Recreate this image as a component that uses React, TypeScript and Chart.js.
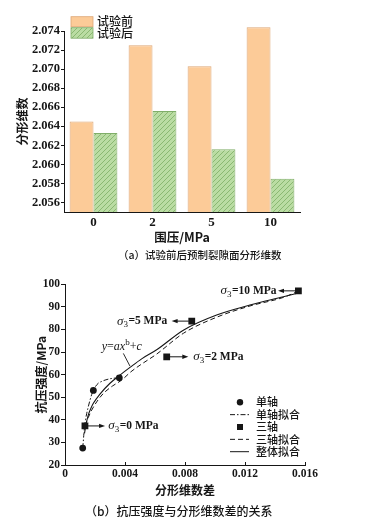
import React, { useEffect, useRef } from "react";
import { Chart, registerables } from "chart.js";

Chart.register(...registerables);

// ---------- (a) fractal dimension before / after test ----------
const confiningPressure = ["0", "2", "5", "10"];
const dimBefore = [2.0645, 2.0725, 2.0703, 2.0744];
const dimAfter = [2.0633, 2.0656, 2.0616, 2.0585];
const seriesNamesA = ["试验前", "试验后"];
const yTicksA = [2.056, 2.058, 2.06, 2.062, 2.064, 2.066, 2.068, 2.07, 2.072, 2.074];
const yMinA = 2.055;

// ---------- (b) strength vs fractal dimension difference ----------
const uniX = [0.00118, 0.00189, 0.00362];
const uniY = [27.5, 53.0, 58.6];
const triX = [0.00133, 0.00678, 0.00845, 0.01556];
const triY = [37.3, 67.9, 83.7, 97.1];
const triSigma = ["0", "2", "5", "10"];
const triArrowEndX = [0.00267, 0.00822, 0.00711, 0.0142];
const triLabelX = [0.00289, 0.00855, 0.00678, 0.01407];
const triLabelSide = ["right", "right", "left", "left"];

const uniFitX = [0.00118, 0.00122, 0.00126, 0.00131, 0.00137, 0.00145, 0.00156, 0.00167, 0.00178, 0.00189, 0.00205, 0.00222, 0.00245, 0.00267, 0.00295, 0.00322, 0.00362];
const uniFitY = [27.5, 30.5, 34.0, 37.5, 40.2, 42.9, 46.0, 48.8, 51.2, 53.0, 54.9, 56.2, 57.0, 57.6, 58.1, 58.4, 58.6];

const triFitX = [0.00133, 0.00155, 0.00178, 0.00215, 0.00256, 0.00315, 0.00378, 0.0044, 0.005, 0.00611, 0.00789, 0.0101, 0.01233, 0.01456, 0.01556];
const triFitY = [37.3, 41.0, 44.3, 48.3, 51.7, 54.9, 57.6, 61.3, 64.2, 69.1, 78.3, 85.4, 90.4, 94.2, 97.0];

const allFitX = [0.0013, 0.00142, 0.00155, 0.00172, 0.00189, 0.00233, 0.003, 0.00362, 0.00433, 0.00511, 0.00611, 0.00789, 0.01011, 0.01233, 0.01456, 0.01556];
const allFitY = [34.0, 38.5, 42.1, 45.0, 47.3, 51.4, 56.2, 59.6, 63.2, 67.0, 71.0, 79.7, 86.4, 90.8, 94.5, 96.2];

const legendNamesB = ["单轴", "单轴拟合", "三轴", "三轴拟合", "整体拟合"];
const xTicksB = [0, 0.004, 0.008, 0.012, 0.016];
const yTicksB = [20, 30, 40, 50, 60, 70, 80, 90, 100];

const formulaAt = { x: 0.00245, y: 72.3 };
const formulaLeader = [
  { x: 0.00389, y: 69.4 },
  { x: 0.00433, y: 63.8 },
];

const SERIF = '"Liberation Serif", "Times New Roman", "Noto Sans CJK SC", serif';
const CJK = '"Noto Sans CJK SC", "Liberation Serif", sans-serif';
const INK = "#161616";

function makeHatch(): CanvasPattern | string {
  const c = document.createElement("canvas");
  c.width = 5;
  c.height = 5;
  const g = c.getContext("2d");
  if (!g) return "#B9DBA2";
  g.fillStyle = "#BADCA3";
  g.fillRect(0, 0, 5, 5);
  g.strokeStyle = "#7EAF66";
  g.lineWidth = 0.8;
  g.beginPath();
  g.moveTo(0, 5);
  g.lineTo(5, 0);
  g.moveTo(-1, 1);
  g.lineTo(1, -1);
  g.moveTo(4, 6);
  g.lineTo(6, 4);
  g.stroke();
  const p = g.createPattern(c, "repeat");
  return p || "#B9DBA2";
}

function drawArrow(ctx: CanvasRenderingContext2D, x1: number, y: number, x2: number) {
  const dir = x2 > x1 ? 1 : -1;
  ctx.save();
  ctx.strokeStyle = INK;
  ctx.fillStyle = INK;
  ctx.lineWidth = 1;
  ctx.beginPath();
  ctx.moveTo(x1, y);
  ctx.lineTo(x2 - dir * 4, y);
  ctx.stroke();
  ctx.beginPath();
  ctx.moveTo(x2, y);
  ctx.lineTo(x2 - dir * 6, y - 2.2);
  ctx.lineTo(x2 - dir * 6, y + 2.2);
  ctx.closePath();
  ctx.fill();
  ctx.restore();
}

function drawSigma(ctx: CanvasRenderingContext2D, x: number, y: number, val: string, side: string) {
  const parts = [
    { t: "σ", f: `italic 13px ${SERIF}`, dy: 0 },
    { t: "3", f: `9px ${SERIF}`, dy: 3.5 },
    { t: `=${val} MPa`, f: `bold 11.5px ${SERIF}`, dy: 0 },
  ];
  ctx.save();
  let total = 0;
  const widths = parts.map((p) => {
    ctx.font = p.f;
    const w = ctx.measureText(p.t).width;
    total += w;
    return w;
  });
  let cx = side === "right" ? x : x - total;
  ctx.fillStyle = INK;
  ctx.textBaseline = "middle";
  ctx.textAlign = "left";
  parts.forEach((p, i) => {
    ctx.font = p.f;
    ctx.fillText(p.t, cx, y + p.dy);
    cx += widths[i] + (i === 1 ? 0.5 : 0);
  });
  ctx.restore();
}

const legendAPlugin = {
  id: "legendA",
  afterDraw(chart: any) {
    const { ctx, chartArea } = chart;
    const { left, top } = chartArea;
    const fills = chart.data.datasets.map((d: any) => d.backgroundColor);
    const borders = chart.data.datasets.map((d: any) => d.borderColor);
    const boxes = [
      { y: top - 14.3, h: 10 },
      { y: top - 3.3, h: 10.5 },
    ];
    ctx.save();
    seriesNamesA.forEach((name, i) => {
      ctx.fillStyle = fills[i];
      ctx.fillRect(left + 7, boxes[i].y, 22, boxes[i].h);
      ctx.strokeStyle = borders[i];
      ctx.lineWidth = 0.8;
      ctx.strokeRect(left + 7, boxes[i].y, 22, boxes[i].h);
      ctx.fillStyle = INK;
      ctx.font = `500 12px ${CJK}`;
      ctx.textBaseline = "middle";
      ctx.textAlign = "left";
      ctx.fillText(name, left + 33, boxes[i].y + boxes[i].h / 2);
    });
    ctx.restore();
  },
};

const annotBPlugin = {
  id: "annotB",
  afterDatasetsDraw(chart: any) {
    const { ctx, chartArea, scales } = chart;
    const xs = scales.x;
    const ys = scales.y;
    ctx.save();
    // inward x ticks
    ctx.strokeStyle = INK;
    ctx.lineWidth = 1;
    xTicksB.forEach((v) => {
      const px = Math.round(xs.getPixelForValue(v)) + 0.5;
      ctx.beginPath();
      ctx.moveTo(px, chartArea.bottom);
      ctx.lineTo(px, chartArea.bottom - 3);
      ctx.stroke();
    });
    // sigma arrows + labels
    triX.forEach((x, i) => {
      const py = ys.getPixelForValue(triY[i]);
      const px = xs.getPixelForValue(x);
      const ex = xs.getPixelForValue(triArrowEndX[i]);
      const dir = ex > px ? 1 : -1;
      drawArrow(ctx, px + dir * 3, py, ex);
      drawSigma(ctx, xs.getPixelForValue(triLabelX[i]), py, triSigma[i], triLabelSide[i]);
    });
    // formula label
    const fx = xs.getPixelForValue(formulaAt.x);
    const fy = ys.getPixelForValue(formulaAt.y);
    const parts = [
      { t: "y", f: `italic 12px ${SERIF}`, dy: 0 },
      { t: "=", f: `12px ${SERIF}`, dy: 0 },
      { t: "ax", f: `italic 12px ${SERIF}`, dy: 0 },
      { t: "b", f: `9px ${SERIF}`, dy: -4 },
      { t: "+", f: `12px ${SERIF}`, dy: 0 },
      { t: "c", f: `italic 12px ${SERIF}`, dy: 0 },
    ];
    let cx = fx;
    ctx.fillStyle = INK;
    ctx.textBaseline = "middle";
    ctx.textAlign = "left";
    parts.forEach((p) => {
      ctx.font = p.f;
      ctx.fillText(p.t, cx, fy + p.dy);
      cx += ctx.measureText(p.t).width;
    });
    ctx.beginPath();
    ctx.moveTo(xs.getPixelForValue(formulaLeader[0].x), ys.getPixelForValue(formulaLeader[0].y));
    ctx.lineTo(xs.getPixelForValue(formulaLeader[1].x), ys.getPixelForValue(formulaLeader[1].y));
    ctx.lineWidth = 0.9;
    ctx.stroke();

    // legend
    const sx = chartArea.right - 65;
    const tx = chartArea.right - 49;
    const y0 = chartArea.bottom - 62.7;
    const step = 12.35;
    const dsets = chart.data.datasets;
    legendNamesB.forEach((name, i) => {
      const y = y0 + i * step;
      const ds = dsets[i];
      ctx.fillStyle = INK;
      ctx.strokeStyle = INK;
      if (!ds.showLine) {
        if (ds.pointStyle === "rect") {
          ctx.fillRect(sx - 3, y - 3, 6, 6);
        } else {
          ctx.beginPath();
          ctx.arc(sx, y, 3.2, 0, Math.PI * 2);
          ctx.fill();
        }
      } else {
        ctx.save();
        ctx.lineWidth = 1;
        ctx.setLineDash(ds.borderDash || []);
        ctx.beginPath();
        ctx.moveTo(sx - 10, y);
        ctx.lineTo(sx + 9, y);
        ctx.stroke();
        ctx.restore();
      }
      ctx.font = `500 11px ${CJK}`;
      ctx.textBaseline = "middle";
      ctx.fillText(name, tx, y);
    });
    ctx.restore();
  },
};

export default function App() {
  const refA = useRef<HTMLCanvasElement>(null);
  const refB = useRef<HTMLCanvasElement>(null);

  useEffect(() => {
    if (!refA.current || !refB.current) return;
    const hatch = makeHatch();
    const chartA = new Chart(refA.current, {
      type: "bar",
      data: {
        labels: confiningPressure,
        datasets: [
          {
            label: seriesNamesA[0],
            data: dimBefore,
            base: yMinA,
            backgroundColor: "#FCCB98",
            borderColor: "#DDA676",
            borderWidth: 1,
            categoryPercentage: 0.81,
            barPercentage: 1,
            clip: false as any,
          },
          {
            label: seriesNamesA[1],
            data: dimAfter,
            base: yMinA,
            backgroundColor: hatch as any,
            borderColor: "#80AE69",
            borderWidth: 1,
            categoryPercentage: 0.81,
            barPercentage: 1,
            clip: false as any,
          },
        ] as any,
      },
      options: {
        responsive: false,
        maintainAspectRatio: false,
        animation: false,
        devicePixelRatio: 1,
        layout: { padding: { left: 0, top: 31, right: 66, bottom: 0 } },
        plugins: { legend: { display: false }, tooltip: { enabled: false } },
        scales: {
          x: {
            grid: { display: false, drawTicks: false },
            border: { display: true, color: INK, width: 1 },
            ticks: { color: INK, font: { family: SERIF, size: 13, weight: "bold" }, padding: 3 },
            title: {
              display: true,
              text: "围压/MPa",
              color: INK,
              font: { family: CJK, size: 12.5, weight: "bold" },
              padding: { top: 0, bottom: 5.5 },
            },
            afterFit: (s: any) => {
              s.height = 38;
            },
          },
          y: {
            min: yMinA,
            max: 2.074,
            afterBuildTicks: (s: any) => {
              s.ticks = yTicksA.map((v) => ({ value: v }));
            },
            ticks: {
              color: INK,
              font: { family: SERIF, size: 12.5, weight: "bold" },
              padding: 1,
              callback: (v: any) => Number(v).toFixed(3),
            },
            grid: { display: true, drawOnChartArea: false, drawTicks: true, tickLength: 3, color: INK },
            border: { display: true, color: INK, width: 1 },
            title: {
              display: true,
              text: "分形维数",
              color: INK,
              font: { family: CJK, size: 12, weight: "bold" },
              padding: { top: 14.8, bottom: 0 },
            },
            afterFit: (s: any) => {
              s.width = 64;
            },
          },
        },
      },
      plugins: [legendAPlugin],
    });

    const pts = (xs: number[], ys: number[]) => xs.map((x, i) => ({ x, y: ys[i] }));
    const chartB = new Chart(refB.current, {
      type: "scatter",
      data: {
        datasets: [
          {
            label: legendNamesB[0],
            data: pts(uniX, uniY),
            pointStyle: "circle",
            pointRadius: 3.4,
            backgroundColor: INK,
            borderColor: INK,
            borderWidth: 0,
            showLine: false,
            order: 0,
          },
          {
            label: legendNamesB[1],
            data: pts(uniFitX, uniFitY),
            showLine: true,
            pointRadius: 0,
            borderColor: INK,
            borderWidth: 1,
            borderDash: [5, 2, 1.5, 2],
            cubicInterpolationMode: "monotone",
            order: 2,
          },
          {
            label: legendNamesB[2],
            data: pts(triX, triY),
            pointStyle: "rect",
            pointRadius: 4.8,
            backgroundColor: INK,
            borderColor: INK,
            borderWidth: 0,
            showLine: false,
            order: 0,
          },
          {
            label: legendNamesB[3],
            data: pts(triFitX, triFitY),
            showLine: true,
            pointRadius: 0,
            borderColor: INK,
            borderWidth: 1,
            borderDash: [5, 3],
            cubicInterpolationMode: "monotone",
            order: 2,
          },
          {
            label: legendNamesB[4],
            data: pts(allFitX, allFitY),
            showLine: true,
            pointRadius: 0,
            borderColor: INK,
            borderWidth: 1.1,
            cubicInterpolationMode: "monotone",
            order: 2,
          },
        ] as any,
      },
      options: {
        responsive: false,
        maintainAspectRatio: false,
        animation: false,
        devicePixelRatio: 1,
        layout: { padding: { left: 0, top: 22.3, right: 61, bottom: 0 } },
        plugins: { legend: { display: false }, tooltip: { enabled: false } },
        scales: {
          x: {
            type: "linear",
            min: 0,
            max: 0.016,
            afterBuildTicks: (s: any) => {
              s.ticks = xTicksB.map((v) => ({ value: v }));
            },
            grid: { display: false, drawTicks: false },
            border: { display: true, color: INK, width: 1 },
            ticks: {
              color: INK,
              font: { family: SERIF, size: 11.5, weight: "bold" },
              padding: 2,
              maxRotation: 0,
              callback: (v: any) => (Number(v) === 0 ? "0" : Number(v).toFixed(3)),
            },
            title: {
              display: true,
              text: "分形维数差",
              color: INK,
              font: { family: CJK, size: 12, weight: "bold" },
              padding: { top: 0, bottom: 4.1 },
            },
            afterFit: (s: any) => {
              s.height = 37;
            },
          },
          y: {
            type: "linear",
            min: 20,
            max: 100,
            afterBuildTicks: (s: any) => {
              s.ticks = yTicksB.map((v) => ({ value: v }));
            },
            grid: { display: true, drawOnChartArea: false, drawTicks: true, tickLength: 4, color: INK },
            border: { display: true, color: INK, width: 1 },
            ticks: { color: INK, font: { family: SERIF, size: 11.5, weight: "bold" }, padding: 1 },
            title: {
              display: true,
              text: "抗压强度/MPa",
              color: INK,
              font: { family: CJK, size: 12, weight: "bold" },
              padding: { top: 33.8, bottom: 0 },
            },
            afterFit: (s: any) => {
              s.width = 65;
            },
          },
        },
      },
      plugins: [annotBPlugin],
    });

    return () => {
      chartA.destroy();
      chartB.destroy();
    };
  }, []);

  return (
    <div
      style={{
        position: "absolute",
        left: 0,
        top: 0,
        width: 366,
        height: 527,
        background: "#fff",
        overflow: "hidden",
      }}
    >
      <canvas
        ref={refA}
        width={366}
        height={250}
        style={{ position: "absolute", left: 0, top: 0, width: 366, height: 250 }}
      />
      <div
        style={{
          position: "absolute",
          left: 118,
          top: 248,
          whiteSpace: "nowrap",
          font: `500 10.5px ${CJK}`,
          lineHeight: "14px",
          color: INK,
        }}
      >
        （a）试验前后预制裂隙面分形维数
      </div>
      <canvas
        ref={refB}
        width={366}
        height={240}
        style={{ position: "absolute", left: 0, top: 262, width: 366, height: 240 }}
      />
      <div
        style={{
          position: "absolute",
          left: 85,
          top: 503,
          whiteSpace: "nowrap",
          font: `500 12px ${CJK}`,
          lineHeight: "16px",
          color: INK,
        }}
      >
        （b）抗压强度与分形维数差的关系
      </div>
    </div>
  );
}
